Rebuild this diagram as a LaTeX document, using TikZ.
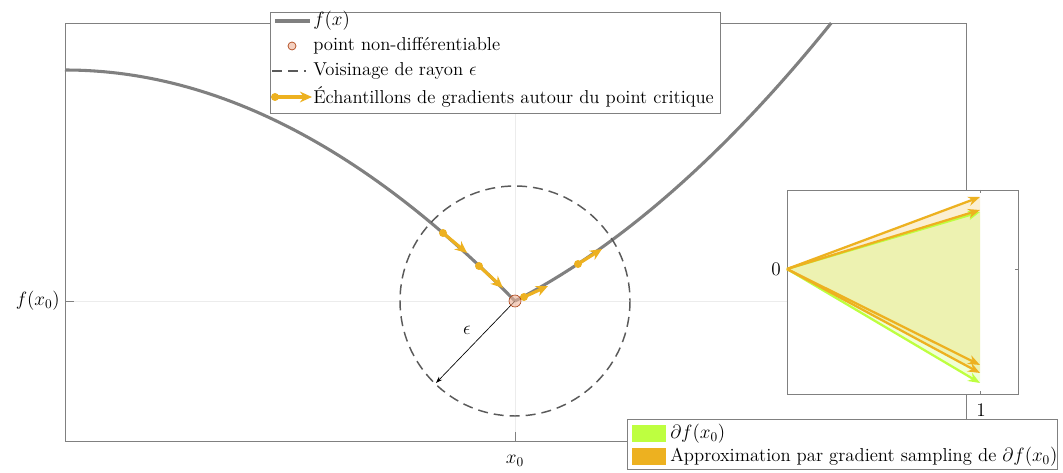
\documentclass[tikz,border=0pt]{standalone}
\usepackage{fontspec}
\usetikzlibrary{arrows.meta}

\definecolor{axgray}{RGB}{128,128,128}
\definecolor{gridgray}{RGB}{236,236,236}
\definecolor{crvgray}{RGB}{128,128,128}
\definecolor{circgray}{RGB}{90,90,90}
\definecolor{smporange}{RGB}{237,177,32}
\definecolor{subgreen}{RGB}{190,255,64}
\definecolor{ptred}{RGB}{217,83,25}

\tikzset{
  axbox/.style={draw=axgray, line width=0.6pt},
  gridln/.style={draw=gridgray, line width=0.6pt},
  fcurve/.style={draw=crvgray, line width=2.3pt},
  voisin/.style={draw=circgray, line width=1.1pt, dash pattern=on 7.5pt off 4.5pt},
  smparrow/.style={draw=smporange, line width=2.4pt, -{Stealth[length=9pt,width=8pt]}},
  smpdot/.style={fill=smporange, draw=none},
  ndpoint/.style={fill=ptred!45, fill opacity=0.6, draw=ptred!80!black, line width=0.5pt},
  gvec/.style={draw=subgreen, line width=1.7pt, -{Stealth[length=9pt,width=7pt]}},
  ovec/.style={draw=smporange, line width=1.7pt, -{Stealth[length=9pt,width=7pt]}},
  lgbox/.style={draw=axgray, fill=white, line width=0.6pt},
  lbl/.style={inner sep=0.75pt},
}

\begin{document}
\begin{tikzpicture}[x=0.75pt,y=0.75pt,yscale=-1,xscale=1,font=\fontsize{14}{16.5}\selectfont]
\useasboundingbox (0,0) rectangle (1063,473);

% main axes
\draw [gridln] (515,23) -- (515,441) ;
\draw [gridln] (65,301) -- (966,301) ;
\draw [axbox] (65,23) rectangle (966,441) ;
\draw [axbox] (515,441) -- (515,432) ;
\draw [axbox] (65,301) -- (74,301) ;
\node [lbl, anchor=east] (ylab) at (61,301) {$f(x_0)$};
\node [lbl] (xlab) at (515,461) {$x_0$};

% f(x)
\draw [fcurve] plot[domain=0:4.5, samples=60] ({65+100*\x},{70+11.41*\x*\x}) ;
\draw [fcurve] plot[domain=0:3.162, samples=50] ({515+100*\x},{301-51.7*\x-11.45*\x*\x}) ;

% voisinage
\coordinate (x0pt) at (515,301);
\coordinate (epsend) at (436,383);
\draw [voisin] (x0pt) circle (115) ;
\draw [black, line width=0.5pt, -{Stealth[length=5pt,width=3.5pt]}] (x0pt) -- (epsend) ;
\node [lbl] (epslab) at (467,330) {$\epsilon$};

% gradient samples
\coordinate (s1a) at (443,233); \coordinate (s1b) at (467,253);
\coordinate (s2a) at (479,266); \coordinate (s2b) at (503,288);
\coordinate (s3a) at (524,297); \coordinate (s3b) at (548,286);
\coordinate (s4a) at (578,264); \coordinate (s4b) at (602,249);
\foreach \s in {1,2,3,4} {
  \draw [smparrow] (s\s a) -- (s\s b) ;
  \fill [smpdot] (s\s a) circle (4) ;
}
\draw [ndpoint] (x0pt) circle (6) ;

% inset: subdifferential
\draw [axbox, fill=white] (787,190) rectangle (1018,394) ;
\draw [axbox] (980,394) -- (980,391) ;
\draw [axbox] (980,190) -- (980,193) ;
\draw [axbox] (1018,269) -- (1015,269) ;
\coordinate (o) at (787,269);
\fill [smporange, opacity=0.2] (o) -- (980,197) -- (980,373) -- cycle ;
\fill [subgreen, opacity=0.22] (o) -- (980,212) -- (980,383) -- cycle ;
\draw [gvec] (o) -- (980,212) ;
\draw [gvec] (o) -- (980,383) ;
\draw [ovec] (o) -- (980,197) ;
\draw [ovec] (o) -- (980,210) ;
\draw [ovec] (o) -- (980,365) ;
\draw [ovec] (o) -- (980,373) ;
\node [lbl, anchor=east] (zlab) at (782,269) {$0$};
\node [lbl] (onelab) at (981,410) {$1$};

% legend top
\draw [lgbox] (270,12) rectangle (720,113) ;
\draw [fcurve] (275,21) -- (310,21) ;
\node [lbl, anchor=west] (lg1) at (312,21) {$f(x)$};
\draw [ndpoint] (292,46) circle (4) ;
\node [lbl, anchor=west] (lg2) at (312,46) {point non-différentiable};
\draw [voisin] (272,71) -- (306,71) ;
\node [lbl, anchor=west] (lg3) at (312,71) {Voisinage de rayon $\epsilon$};
\draw [smparrow] (274,97) -- (312,97) ;
\fill [smpdot] (275,97) circle (4) ;
\node [lbl, anchor=west] (lg4) at (312,97) {Échantillons de gradients autour du point critique};

% legend bottom
\draw [lgbox] (627,419) rectangle (1057,469) ;
\fill [subgreen] (632,425) rectangle (666,442) ;
\node [lbl, anchor=west] (lg5) at (669,434) {$\partial f(x_0)$};
\fill [smporange] (632,448) rectangle (666,465) ;
\node [lbl, anchor=west] (lg6) at (669,457) {Approximation par gradient sampling de $\partial f(x_0)$};
\end{tikzpicture}
\end{document}
